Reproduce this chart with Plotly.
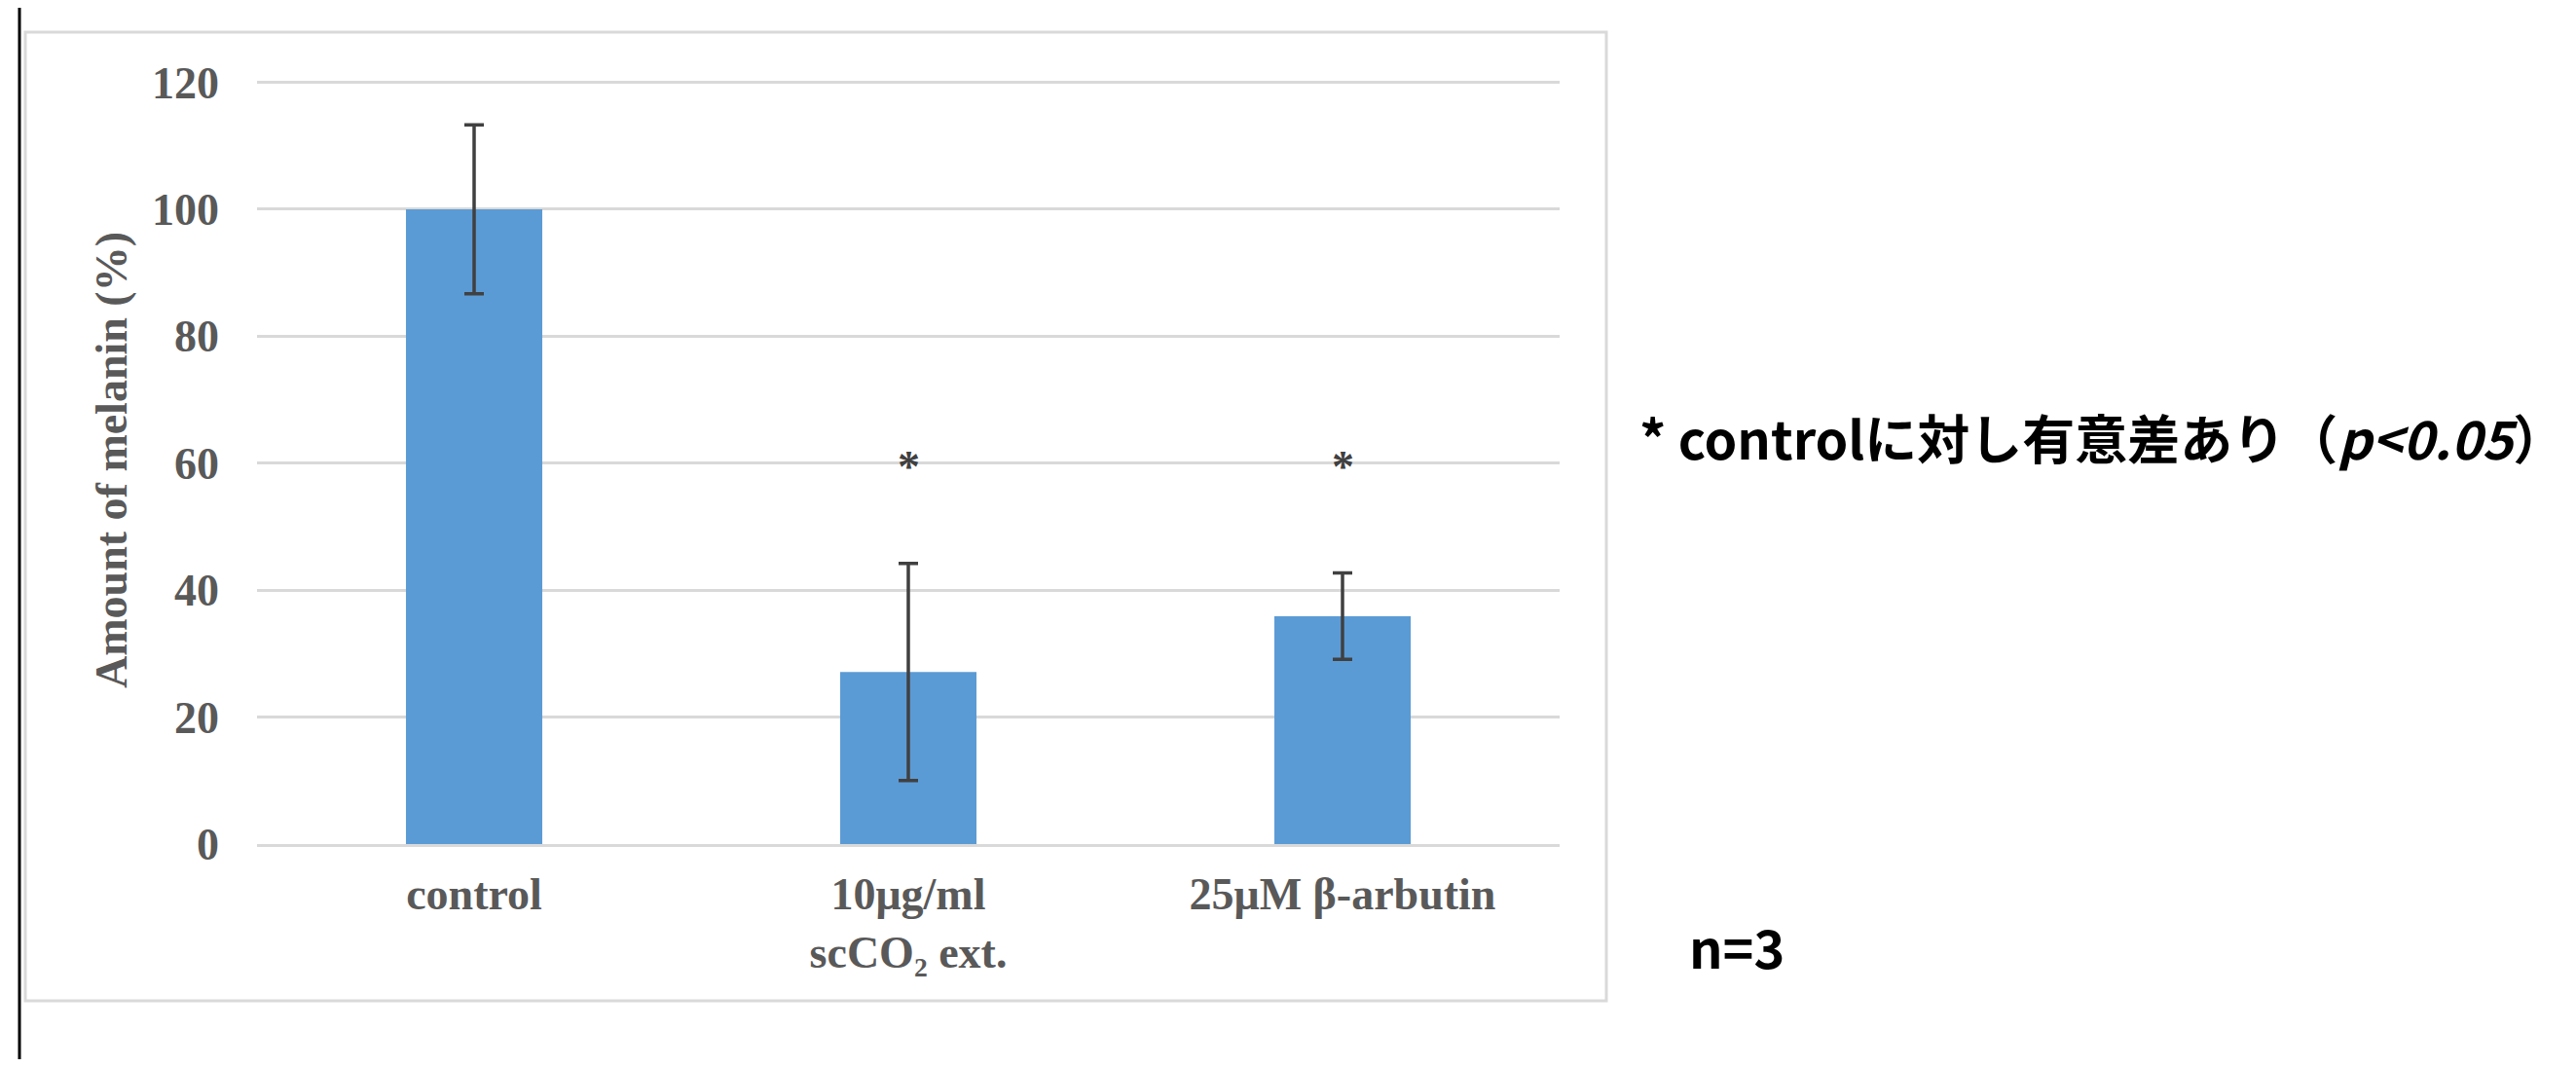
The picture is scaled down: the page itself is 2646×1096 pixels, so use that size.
import plotly.graph_objects as go

# ---- data ----
categories = ["control", "10μg/ml<br>scCO₂ ext.", "25μM β-arbutin"]
melanin_mean = [100.0, 27.1, 35.9]
melanin_sd = [13.3, 17.1, 6.8]
significance = ["", "*", "*"]
y_ticks = [0, 20, 40, 60, 80, 100, 120]
sig_level = 59.5

# ---- geometry (pixels) ----
OFF = 8                      # page body margin
W, H = 2646 - 2 * OFF, 1096 - 2 * OFF
ML, MT = 264 - OFF, 78 - OFF
MR = W - (1602 - OFF)
MB = H - (867 - OFF)
PW, PH = W - ML - MR, H - MT - MB


def fx(p):
    return (p - OFF - ML) / PW


def fy(p):
    return (H - MB - (p - OFF)) / PH


SERIF = "Liberation Serif"
GREY = "#595959"

fig = go.Figure()
fig.add_trace(go.Bar(
    x=categories,
    y=melanin_mean,
    marker=dict(color="#5B9BD5", line=dict(width=0)),
    error_y=dict(type="data", array=melanin_sd, visible=True,
                 color="#404040", thickness=3.5, width=10),
    showlegend=False,
))

for cat, s in zip(categories, significance):
    if s:
        fig.add_annotation(x=cat, y=sig_level, xref="x", yref="y", text=s,
                           showarrow=False, yanchor="middle",
                           font=dict(family=SERIF, size=46, color="#404040", weight="bold"))

fig.add_annotation(
    x=fx(1682), y=fy(448), xref="paper", yref="paper", xanchor="left", yanchor="middle",
    text="<b>* controlに対し有意差あり（<i>p&lt;0.05</i>）</b>", showarrow=False,
    font=dict(family="Noto Sans CJK JP", size=54, color="#000000"))
fig.add_annotation(
    x=fx(1733), y=fy(972), xref="paper", yref="paper", xanchor="left", yanchor="middle",
    text="<b>n=3</b>", showarrow=False,
    font=dict(family="Noto Sans CJK JP", size=54, color="#000000"))

# chart frame and slide edge
fig.add_shape(type="rect", xref="paper", yref="paper",
              x0=fx(26), x1=fx(1650), y0=fy(1028), y1=fy(33),
              line=dict(color="#d9d9d9", width=3), layer="below")
fig.add_shape(type="line", xref="paper", yref="paper",
              x0=fx(20), x1=fx(20), y0=fy(1110), y1=fy(-10),
              line=dict(color="#000000", width=3))

fig.update_layout(
    width=W, height=H, autosize=False,
    margin=dict(l=ML, r=MR, t=MT, b=MB, pad=0),
    paper_bgcolor="white", plot_bgcolor="white",
    bargap=0.686,
    xaxis=dict(
        showgrid=False, showline=True, linecolor="#d9d9d9", linewidth=3,
        ticks="", ticklabelstandoff=9, automargin=False,
        tickfont=dict(family=SERIF, size=46, color=GREY, weight="bold"),
    ),
    yaxis=dict(
        range=[0, 121], tickvals=y_ticks, showgrid=True, gridcolor="#d9d9d9", gridwidth=3,
        zeroline=False, showline=False, ticks="", ticklabelstandoff=38, automargin=False,
        tickfont=dict(family=SERIF, size=46, color=GREY, weight="bold"),
        title=dict(text="Amount of melanin (%)", standoff=10,
                   font=dict(family=SERIF, size=46, color=GREY, weight="bold")),
    ),
)

fig.write_html("out.html")
